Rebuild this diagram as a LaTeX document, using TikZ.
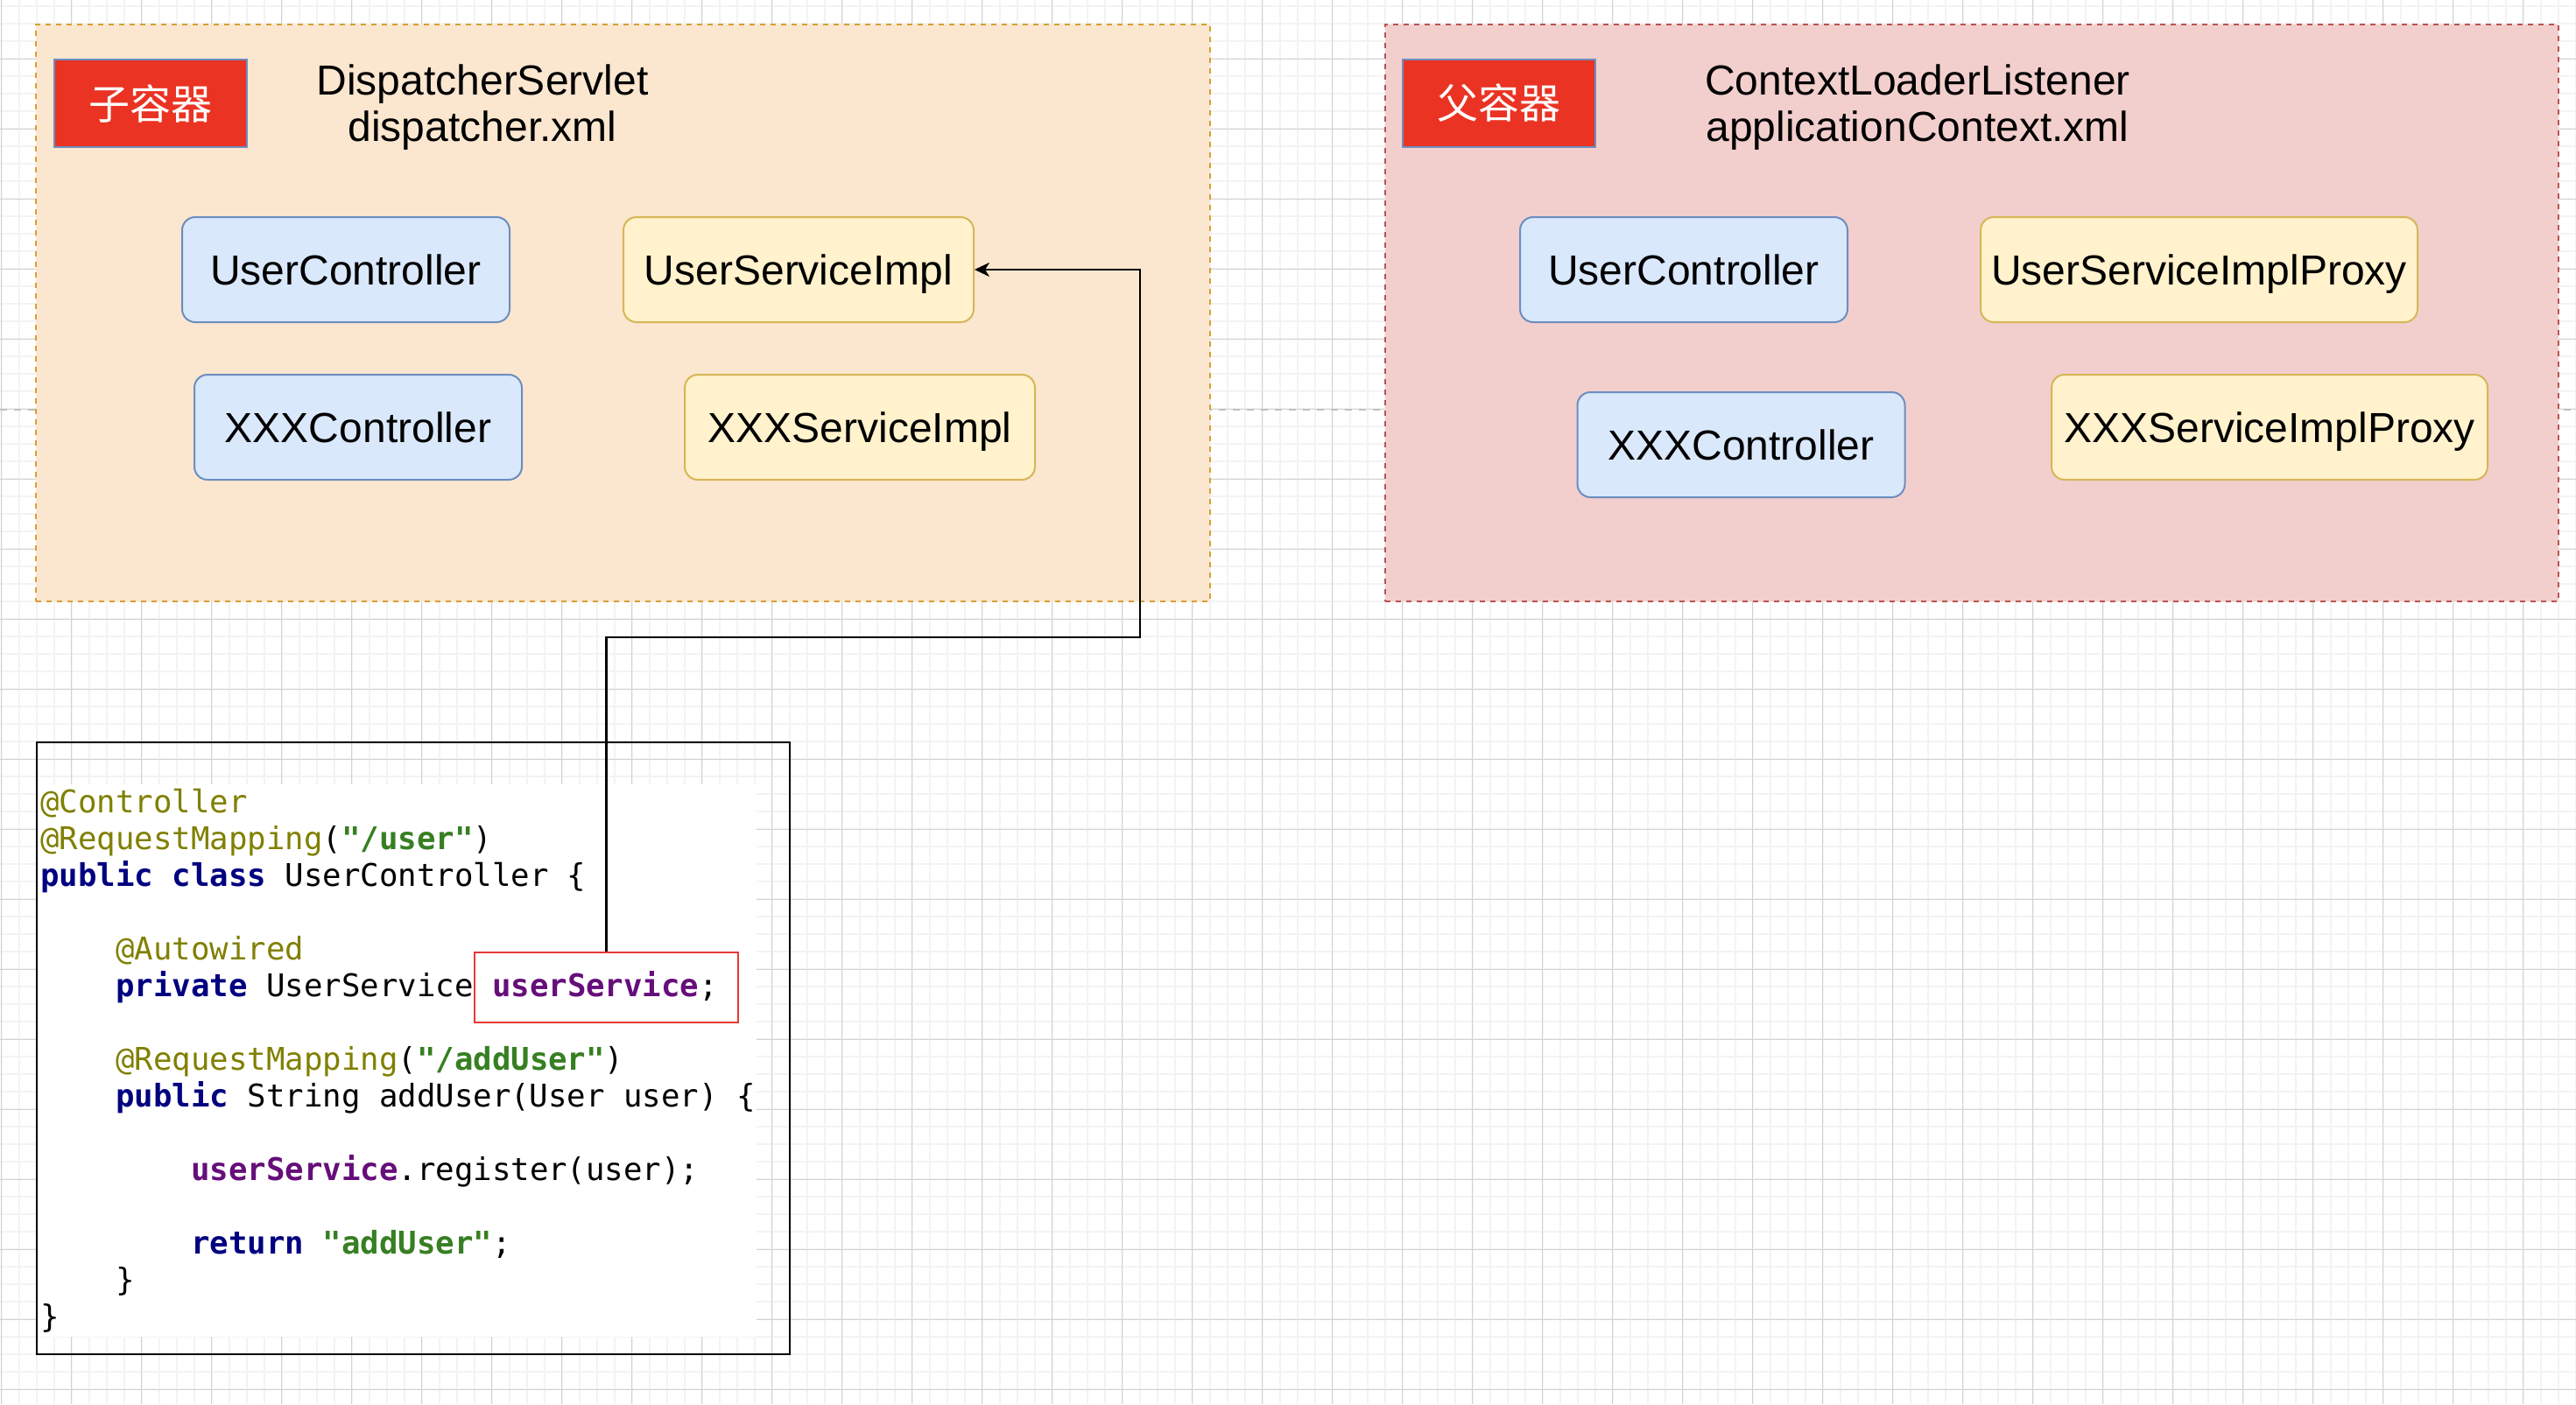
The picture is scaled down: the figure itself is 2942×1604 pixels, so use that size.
\documentclass[tikz,border=0pt]{standalone}
\usepackage{fontspec}
\setmainfont{Liberation Sans}
\newfontfamily\cjkfont{Noto Sans CJK SC}
\newfontfamily\codefont{DejaVu Sans Mono}[Ligatures=TeXOff]
\usetikzlibrary{arrows.meta}
\usetikzlibrary{positioning}

\definecolor{gridminor}{HTML}{F3F3F3}
\definecolor{gridmajor}{HTML}{D2D2D2}
\definecolor{pageline}{HTML}{C0C0C0}
\definecolor{childfill}{HTML}{FBE6CF}
\definecolor{childline}{HTML}{D6A032}
\definecolor{parentfill}{HTML}{F2CFCD}
\definecolor{parentline}{HTML}{B85450}
\definecolor{tagfill}{HTML}{EA3323}
\definecolor{blueline}{HTML}{6C8EBF}
\definecolor{bluefill}{HTML}{DAE8FC}
\definecolor{yellowline}{HTML}{D6B656}
\definecolor{yellowfill}{HTML}{FFF2CC}
\definecolor{hlred}{HTML}{E53935}
\definecolor{annocol}{HTML}{808000}
\definecolor{kwcol}{HTML}{000080}
\definecolor{strcol}{HTML}{377F22}
\definecolor{fldcol}{HTML}{660E7A}

\newcommand{\codekw}[1]{{\bfseries\color{kwcol}#1}}
\newcommand{\codeanno}[1]{{\color{annocol}#1}}
\newcommand{\codestr}[1]{{\bfseries\color{strcol}#1}}
\newcommand{\codefld}[1]{{\bfseries\color{fldcol}#1}}
\newcommand{\codetab}{\phantom{xxxx}}

\tikzset{
  minorline/.style={draw=gridminor,line width=2pt},
  majorline/.style={draw=gridmajor,line width=1.2pt},
  container/.style={rectangle,dashed,dash pattern=on 6pt off 6pt,line width=2pt,inner sep=0pt},
  tag/.style={rectangle,draw=blueline,fill=tagfill,line width=2pt,text=white,
    minimum width=220pt,minimum height=100pt,inner sep=0pt,
    font=\cjkfont\fontsize{47}{50}\selectfont},
  title/.style={align=center,font=\fontsize{48}{53}\selectfont,inner sep=0pt},
  ctrl/.style={rectangle,rounded corners=15pt,draw=blueline,fill=bluefill,line width=2pt,
    minimum height=120pt,inner sep=0pt,text height=34pt,text depth=0pt,
    font=\fontsize{48}{53}\selectfont},
  svc/.style={rectangle,rounded corners=15pt,draw=yellowline,fill=yellowfill,line width=2pt,
    minimum height=120pt,inner sep=0pt,text height=34pt,text depth=0pt,
    font=\fontsize{48}{53}\selectfont},
  codetext/.style={align=left,inner xsep=4pt,inner ysep=5pt,
    font=\codefont\fontsize{35.7}{42}\selectfont},
  suite/.style={-{Stealth[length=17pt,width=16pt,inset=5pt]},line width=2.5pt}
}

\begin{document}
\begin{tikzpicture}[x=1pt,y=-1pt]
\useasboundingbox (0,0) rectangle (2942,1604);
\fill[white] (0,0) rectangle (2942,1604);
%grid
\foreach \gx in {1.5,21.5,...,2942} \draw[minorline] (\gx,0) -- (\gx,1604);
\foreach \gy in {7.3,27.3,...,1604} \draw[minorline] (0,\gy) -- (2942,\gy);
\foreach \gx in {1.5,81.5,...,2942} \draw[majorline] (\gx,0) -- (\gx,1604);
\foreach \gy in {67.3,147.3,...,1604} \draw[majorline] (0,\gy) -- (2942,\gy);
\draw[pageline,line width=2pt,dash pattern=on 8pt off 8pt] (0,468) -- (2942,468);
%containers
\node[container,draw=childline,fill=childfill,minimum width=1341pt,minimum height=659pt] (child) at (711.5,357.5) {};
\node[container,draw=parentline,fill=parentfill,minimum width=1340pt,minimum height=659pt] (parent) at (2252,357.5) {};
%child container
\node[tag] (childtag) at (172,118) {子容器};
\node[title] (childtitle) at (551,123) {DispatcherServlet\\dispatcher.xml};
\node[ctrl,minimum width=374pt] (uc1) at (395,308) {UserController};
\node[svc,minimum width=400pt] (usi) at (912,308) {UserServiceImpl};
\node[ctrl,minimum width=374pt] (xc1) at (409,488) {XXXController};
\node[svc,minimum width=400pt] (xsi) at (982,488) {XXXServiceImpl};
%parent container
\node[tag] (parenttag) at (1712,118) {父容器};
\node[title] (parenttitle) at (2190,123) {ContextLoaderListener\\applicationContext.xml};
\node[ctrl,minimum width=374pt] (uc2) at (1923,308) {UserController};
\node[svc,minimum width=499pt] (usip) at (2511.5,308) {UserServiceImplProxy};
\node[ctrl,minimum width=374pt] (xc2) at (1988.5,508) {XXXController};
\node[svc,minimum width=498pt] (xsip) at (2592,488) {XXXServiceImplProxy};
%code
\node[fill=white,minimum width=822pt,minimum height=631pt,inner sep=0pt] (codebg) at (453,1211.5) {};
\node[codetext,anchor=north west] (code) at (42,896) {%
\codeanno{@Controller}\\
\codeanno{@RequestMapping}(\codestr{"/user"})\\
\codekw{public} \codekw{class} UserController \{\\[42pt]
\codetab\codeanno{@Autowired}\\
\codetab\codekw{private} UserService \codefld{userService};\\[42pt]
\codetab\codeanno{@RequestMapping}(\codestr{"/addUser"})\\
\codetab\codekw{public} String addUser(User user) \{\\[42pt]
\codetab\codetab\codefld{userService}.register(user);\\[42pt]
\codetab\codetab\codekw{return} \codestr{"addUser"};\\
\codetab\}\\
\}};
\node[draw=black,line width=2pt,minimum width=860pt,minimum height=699pt,inner sep=0pt] (codeframe) at (472,1197.5) {};
\node[draw=hlred,line width=2pt,minimum width=301pt,minimum height=80pt,inner sep=0pt] (hl) at (692.5,1128) {};
%connector
\coordinate (bend) at (1302,728);
\draw[suite] (hl.north) |- (bend) |- (usi.east);
\end{tikzpicture}
\end{document}
